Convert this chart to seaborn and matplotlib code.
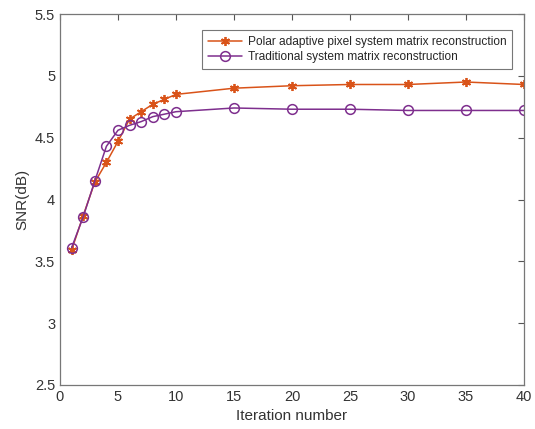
import matplotlib
matplotlib.use("Agg")
import matplotlib.pyplot as plt
import seaborn as sns
import pandas as pd

iterations = [1, 2, 3, 4, 5, 6, 7, 8, 9, 10, 15, 20, 25, 30, 35, 40]
polar_snr = [3.59, 3.87, 4.14, 4.30, 4.47, 4.65, 4.71, 4.77, 4.81, 4.85, 4.90, 4.92, 4.93, 4.93, 4.95, 4.93]
trad_snr = [3.61, 3.86, 4.15, 4.43, 4.56, 4.60, 4.63, 4.67, 4.69, 4.71, 4.74, 4.73, 4.73, 4.72, 4.72, 4.72]
series_names = ["Polar adaptive pixel system matrix reconstruction",
                "Traditional system matrix reconstruction"]
x_ticks = [0, 5, 10, 15, 20, 25, 30, 35, 40]
y_ticks = [2.5, 3, 3.5, 4, 4.5, 5, 5.5]

sns.set_style("white")
plt.rcParams['font.family'] = ['Liberation Sans', 'DejaVu Sans']

df = pd.DataFrame({
    "x": iterations * 2,
    "y": polar_snr + trad_snr,
    "series": [series_names[0]] * len(iterations) + [series_names[1]] * len(iterations),
})

fig = plt.figure(figsize=(5.35, 4.29), dpi=100)
ax = fig.add_axes([60 / 535, 1 - 385 / 429, 464 / 535, 371 / 429])

colors = {series_names[0]: "#D95319", series_names[1]: "#7E2F8E"}
sns.lineplot(data=df, x="x", y="y", hue="series", style="series",
             palette=colors, markers={series_names[0]: "o", series_names[1]: "o"},
             dashes=False, ax=ax, linewidth=1.1, markersize=7, legend=False)

for line, name in zip(ax.get_lines(), series_names):
    line.set_label(name)
    if name == series_names[1]:
        line.set_markerfacecolor("none")
        line.set_markeredgecolor(colors[name])
        line.set_markeredgewidth(1.1)
    else:
        line.set_marker((6, 2, 0))
        line.set_markersize(6.5)
        line.set_markeredgecolor(colors[name])
        line.set_markeredgewidth(1.3)

ax.set_xlim(0, 40)
ax.set_ylim(2.5, 5.5)
ax.set_xticks(x_ticks)
ax.set_xticklabels([str(t) for t in x_ticks])
ax.set_yticks(y_ticks)
ax.set_yticklabels(["2.5", "3", "3.5", "4", "4.5", "5", "5.5"])
ax.set_xlabel("Iteration number", fontsize=11, color="#333333")
ax.set_ylabel("SNR(dB)", fontsize=11, color="#333333")
ax.tick_params(direction="in", top=True, right=True, length=4, width=0.8,
               labelsize=10.5, colors="#555555", labelcolor="#333333")
for s in ax.spines.values():
    s.set_color("#777777")
    s.set_linewidth(0.9)
    s.set_visible(True)

leg = ax.legend(loc="upper right", bbox_to_anchor=(0.988, 0.972), fontsize=8.6,
                frameon=True, fancybox=False, edgecolor="#555555",
                handlelength=2.9, handletextpad=0.5, borderpad=0.45, labelspacing=0.3)
leg.get_frame().set_linewidth(0.8)

fig.savefig("out.png", dpi=100)
